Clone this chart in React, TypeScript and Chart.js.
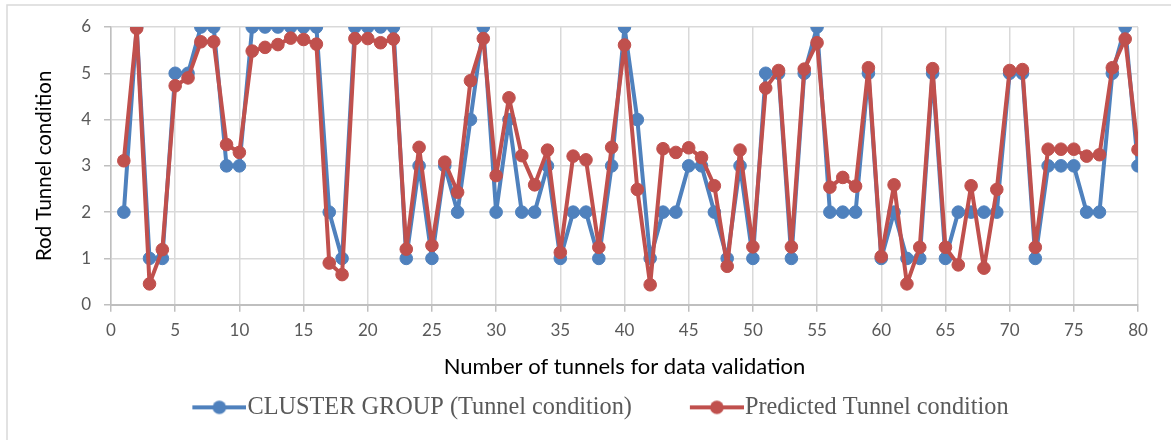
import React, { useEffect, useRef } from "react";
import { Chart, registerables } from "chart.js";

Chart.register(...registerables);

const tunnelNumbers = [
  1, 2, 3, 4, 5, 6, 7, 8, 9, 10, 11, 12, 13, 14, 15, 16, 17, 18, 19, 20,
  21, 22, 23, 24, 25, 26, 27, 28, 29, 30, 31, 32, 33, 34, 35, 36, 37, 38, 39, 40,
  41, 42, 43, 44, 45, 46, 47, 48, 49, 50, 51, 52, 53, 54, 55, 56, 57, 58, 59, 60,
  61, 62, 63, 64, 65, 66, 67, 68, 69, 70, 71, 72, 73, 74, 75, 76, 77, 78, 79, 80,
];

const clusterGroup = [
  2, 6, 1, 1, 5, 5, 6, 6, 3, 3, 6, 6, 6, 6, 6, 6, 2, 1, 6, 6,
  6, 6, 1, 3, 1, 3, 2, 4, 6, 2, 4, 2, 2, 3, 1, 2, 2, 1, 3, 6,
  4, 1, 2, 2, 3, 3, 2, 1, 3, 1, 5, 5, 1, 5, 6, 2, 2, 2, 5, 1,
  2, 1, 1, 5, 1, 2, 2, 2, 2, 5, 5, 1, 3, 3, 3, 2, 2, 5, 6, 3,
];

const predicted = [
  3.11, 5.97, 0.45, 1.19, 4.73, 4.9, 5.68, 5.68, 3.46, 3.29,
  5.48, 5.56, 5.62, 5.76, 5.73, 5.63, 0.9, 0.65, 5.75, 5.75,
  5.66, 5.74, 1.2, 3.4, 1.28, 3.08, 2.43, 4.84, 5.75, 2.79,
  4.47, 3.22, 2.59, 3.34, 1.13, 3.21, 3.13, 1.24, 3.4, 5.61,
  2.49, 0.43, 3.37, 3.29, 3.39, 3.18, 2.57, 0.83, 3.34, 1.25,
  4.68, 5.06, 1.25, 5.09, 5.66, 2.54, 2.75, 2.56, 5.12, 1.04,
  2.59, 0.45, 1.24, 5.1, 1.24, 0.86, 2.57, 0.79, 2.49, 5.06,
  5.08, 1.24, 3.36, 3.36, 3.36, 3.21, 3.24, 5.12, 5.74, 3.35,
];

const seriesLabels = ["CLUSTER GROUP (Tunnel condition)", "Predicted Tunnel condition"];
const seriesColors = ["#4f81bd", "#c0504d"];
const xAxisTitle = "Number of tunnels for data validation";
const yAxisTitle = "Rod Tunnel condition";

const LEGEND_FONT = 24.3;
const LEGEND_PAD = 10;
const LINE_LEN = 54;
const LEGEND_BOX = 113 - LEGEND_PAD - LEGEND_FONT / 2;

function makeLegendIcon(color: string): HTMLCanvasElement {
  const w = Math.round(LEGEND_BOX + LEGEND_FONT - 2);
  const h = 18;
  const c = document.createElement("canvas");
  c.width = w;
  c.height = h;
  const ctx = c.getContext("2d")!;
  ctx.strokeStyle = color;
  ctx.lineWidth = 4;
  ctx.beginPath();
  ctx.moveTo(w - LINE_LEN, h / 2);
  ctx.lineTo(w, h / 2);
  ctx.stroke();
  ctx.fillStyle = color;
  ctx.beginPath();
  ctx.arc(w - LINE_LEN / 2, h / 2, 6.8, 0, Math.PI * 2);
  ctx.fill();
  return c;
}

const framePlugin = {
  id: "frame",
  beforeDraw(chart: any) {
    const ctx = chart.ctx;
    ctx.save();
    ctx.strokeStyle = "#d9d9d9";
    ctx.lineWidth = 1.5;
    ctx.beginPath();
    ctx.moveTo(7, chart.height);
    ctx.lineTo(7, 5);
    ctx.lineTo(chart.width, 5);
    ctx.stroke();
    ctx.restore();
  },
};

const legendShiftPlugin = {
  id: "legendShift",
  afterLayout(chart: any) {
    if (chart.legend) {
      chart.legend.left += 7.5;
      chart.legend.right += 7.5;
    }
  },
};

export default function App() {
  const canvasRef = useRef<HTMLCanvasElement | null>(null);

  useEffect(() => {
    const canvas = canvasRef.current;
    if (!canvas) return;
    const icons = seriesColors.map((c) => makeLegendIcon(c));
    const common = {
      borderWidth: 4,
      borderJoinStyle: "round" as const,
      borderCapStyle: "round" as const,
      pointRadius: 6.3,
      pointBorderWidth: 1,
      tension: 0,
    };
    const chart = new Chart(canvas, {
      type: "line",
      data: {
        datasets: [
          {
            ...common,
            label: seriesLabels[0],
            data: tunnelNumbers.map((x, i) => ({ x, y: clusterGroup[i] })),
            borderColor: seriesColors[0],
            backgroundColor: seriesColors[0],
            pointBackgroundColor: seriesColors[0],
            pointBorderColor: seriesColors[0],
            order: 1,
          },
          {
            ...common,
            label: seriesLabels[1],
            data: tunnelNumbers.map((x, i) => ({ x, y: predicted[i] })),
            borderColor: seriesColors[1],
            backgroundColor: seriesColors[1],
            pointBackgroundColor: seriesColors[1],
            pointBorderColor: seriesColors[1],
            order: 0,
          },
        ],
      },
      options: {
        animation: false,
        responsive: false,
        devicePixelRatio: 1,
        layout: { padding: { top: 27, right: 33, bottom: 10.5, left: 0 } },
        plugins: {
          tooltip: { enabled: false },
          legend: {
            position: "bottom",
            labels: {
              usePointStyle: true,
              pointStyleWidth: LEGEND_BOX,
              padding: LEGEND_PAD,
              color: "#595959",
              font: { family: "'Liberation Serif', 'Times New Roman', serif", size: LEGEND_FONT },
              generateLabels: () =>
                seriesLabels.map((text, i) => ({
                  text,
                  fillStyle: seriesColors[i],
                  strokeStyle: seriesColors[i],
                  lineWidth: 0,
                  pointStyle: icons[i] as any,
                  hidden: false,
                  datasetIndex: i,
                  fontColor: "#595959",
                })),
            },
          },
        },
        scales: {
          x: {
            type: "linear",
            min: 0,
            max: 80,
            afterFit: (scale: any) => {
              scale.height = 80.5;
            },
            ticks: {
              stepSize: 5,
              color: "#595959",
              padding: 9,
              font: { family: "Lato", size: 17 },
            },
            grid: {
              color: "#d9d9d9",
              lineWidth: 1.5,
              tickLength: 7,
              tickColor: "#bfbfbf",
            },
            border: { color: "#bfbfbf", width: 2 },
            title: {
              display: true,
              text: xAxisTitle,
              color: "#000000",
              font: { family: "Lato", size: 22 },
              padding: { top: 0, bottom: 5.3 },
            },
          },
          y: {
            type: "linear",
            min: 0,
            max: 6,
            afterFit: (scale: any) => {
              scale.width = 111;
            },
            ticks: {
              stepSize: 1,
              color: "#595959",
              padding: 13,
              font: { family: "Lato", size: 17 },
            },
            grid: {
              color: "#d9d9d9",
              lineWidth: 1.5,
              tickLength: 7,
              tickColor: "#bfbfbf",
            },
            border: { color: "#bfbfbf", width: 1.5 },
            title: {
              display: true,
              text: yAxisTitle,
              color: "#000000",
              font: { family: "Lato", size: 20.5 },
              padding: { top: 31.7, bottom: 0 },
            },
          },
        },
      },
      plugins: [framePlugin, legendShiftPlugin],
    });
    return () => chart.destroy();
  }, []);

  return (
    <div style={{ position: "fixed", left: 0, top: 0, width: 1171, height: 440, overflow: "hidden", background: "#ffffff" }}>
      <canvas ref={canvasRef} width={1171} height={440} style={{ display: "block", width: 1171, height: 440 }} />
    </div>
  );
}
